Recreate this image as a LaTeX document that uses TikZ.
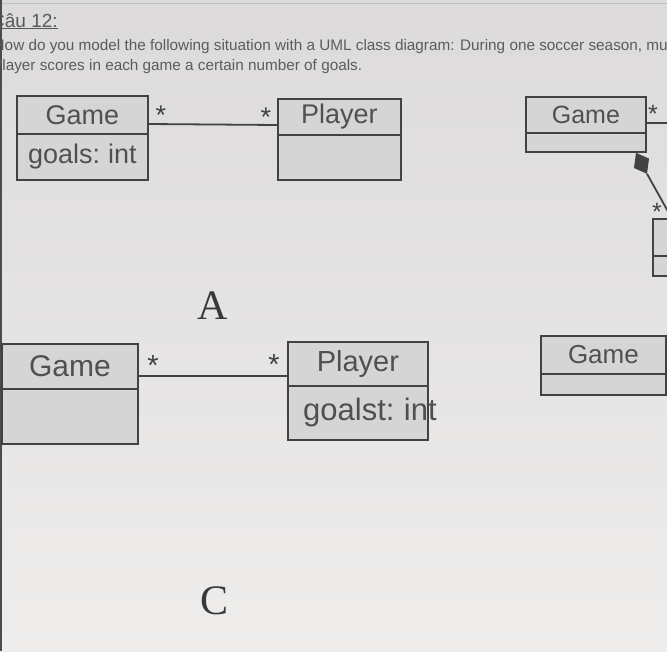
\documentclass[tikz,border=0pt]{standalone}
\usepackage{fontspec}
\setmainfont{Liberation Sans}
\newfontfamily\letterfont{Liberation Serif}
\usetikzlibrary{calc}
\definecolor{bgtop}{RGB}{220,218,219}
\definecolor{bgbot}{RGB}{238,237,236}
\definecolor{boxfill}{RGB}{214,213,214}
\definecolor{boxline}{RGB}{66,66,66}
\definecolor{txt}{RGB}{80,80,80}
\definecolor{hdtxt}{RGB}{92,92,92}
\begin{document}
\begin{tikzpicture}[x=1pt,y=-1pt,
  cls/.style={draw=boxline, line width=1.8pt, fill=boxfill, anchor=north west, inner sep=0pt, text=txt},
  assoc/.style={draw=boxline, line width=1.8pt},
  mult/.style={text=boxline, inner sep=0pt, anchor=base},
  letter/.style={text=black!78, font=\letterfont\fontsize{42}{46}\selectfont, inner sep=0pt},
  head/.style={text=hdtxt, anchor=base west, inner sep=0pt}
]
\useasboundingbox (0,0) rectangle (667,651);
\clip (0,0) rectangle (667,651);
\shade[top color=bgtop, bottom color=bgbot] (0,0) rectangle (667,651);
\draw[black!25, line width=1pt] (0,3) -- (667,3);
\fill[black!70] (0,0) rectangle (1.5,651);

% header texts
\node[head, text=black!65, font=\fontsize{19}{21}\selectfont] (q) at (-9,27) {\underline{Câu 12:}};
\node[head, font=\fontsize{15.3}{18}\selectfont] (l1) at (-6.5,50) {How do you model the following situation with a UML class diagram: During one soccer season, mu};
\node[head, font=\fontsize{15.3}{18}\selectfont] (l2) at (-8,70) {Player scores in each game a certain number of goals.};

% ---- A ----
\node[cls, minimum width=131, minimum height=38, font=\fontsize{27}{30}\selectfont] (gAh) at (16,95) {Game};
\node[cls, minimum width=131, minimum height=46, font=\fontsize{27}{30}\selectfont] (gAb) at (16,133) {goals:\hspace{-2pt} int};
\node[cls, minimum width=123, minimum height=36, font=\fontsize{27}{30}\selectfont] (pAh) at (277,98) {Player};
\node[cls, minimum width=123, minimum height=45] (pAb) at (277,134) {};
\draw[assoc] ([yshift=-29pt]gAh.north east) -- ([yshift=-27pt]pAh.north west);
\node[mult, font=\fontsize{27}{30}\selectfont] (mA1) at (161,124) {*};
\node[mult, font=\fontsize{27}{30}\selectfont] (mA2) at (266,126) {*};
\node[letter] (labA) at (213,306) {A};

% ---- top right ----
\node[cls, minimum width=120, minimum height=36, font=\fontsize{25}{28}\selectfont] (gTRh) at (525,96) {Game};
\node[cls, minimum width=120, minimum height=19] (gTRb) at (525,132) {};
\node[cls, minimum width=60, minimum height=37] (xTRh) at (652,218) {};
\node[cls, minimum width=60, minimum height=20] (xTRb) at (652,255) {};
\coordinate (tr1) at (690,123);
\draw[assoc] ([yshift=-27pt]gTRh.north east) -- (tr1);
\node[mult, font=\fontsize{25}{28}\selectfont] (mT1) at (653,122) {*};
\coordinate (dB) at ([xshift=111pt]gTRb.south west);
\coordinate (dE) at ($(dB)+(40,73)$);
\fill[boxline] (dB) -- ($(dB)+(13,5.8)$) -- ($(dB)+(11,21)$) -- ($(dB)+(-2,15.2)$) -- cycle;
\draw[assoc] ($(dB)+(11,21)$) -- (dE);
\node[mult, font=\fontsize{25}{28}\selectfont] (mT2) at (657,220) {*};

% ---- C ----
\node[cls, minimum width=136, minimum height=45, font=\fontsize{30}{33}\selectfont] (gCh) at (1,343) {Game};
\node[cls, minimum width=136, minimum height=55] (gCb) at (1,388) {};
\node[cls, minimum width=140, minimum height=44, font=\fontsize{29}{32}\selectfont] (pCh) at (287,341) {Player};
\node[cls, minimum width=140, minimum height=54] (pCb) at (287,385) {};
\node[anchor=west, inner sep=0pt, text=txt, font=\fontsize{31}{34}\selectfont] (pCt) at ([xshift=16pt]pCb.west) {goalst:\hspace{-2pt} int};
\draw[assoc] ([yshift=-33pt]gCh.north east) -- ([yshift=-35pt]pCh.north west);
\node[mult, font=\fontsize{29}{32}\selectfont] (mC1) at (153,375) {*};
\node[mult, font=\fontsize{29}{32}\selectfont] (mC2) at (274,374) {*};
\node[letter] (labC) at (215,601) {C};

% ---- bottom right ----
\node[cls, minimum width=125, minimum height=38, font=\fontsize{26}{29}\selectfont] (gBRh) at (540,335) {Game};
\node[cls, minimum width=125, minimum height=21] (gBRb) at (540,373) {};
\coordinate (br1) at (690,359);
\draw[assoc] ([yshift=-24pt]gBRh.north east) -- (br1);
\end{tikzpicture}
\end{document}
